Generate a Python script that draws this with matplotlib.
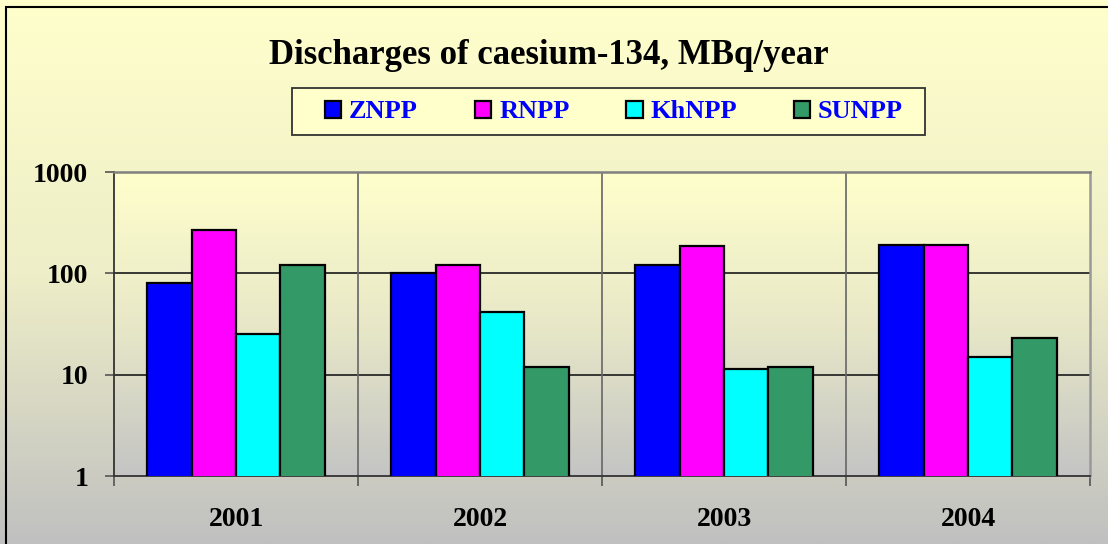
import numpy as np
import matplotlib
matplotlib.use("Agg")
import matplotlib.pyplot as plt
from matplotlib.colors import LinearSegmentedColormap
from matplotlib.patches import Rectangle

years = ["2001", "2002", "2003", "2004"]
series = ["ZNPP", "RNPP", "KhNPP", "SUNPP"]
znpp = [80, 100, 120, 190]
rnpp = [265, 120, 185, 190]
khnpp = [25, 42, 11.5, 15]
sunpp = [120, 12, 12, 23]
colors = ["#0000FF", "#FF00FF", "#00FFFF", "#339966"]
yticks = [1, 10, 100, 1000]

plt.rcParams['font.family'] = ['Liberation Serif', 'DejaVu Serif']
plt.rcParams['font.weight'] = 'bold'

W, H = 1108, 544
fig = plt.figure(figsize=(W / 100, H / 100), dpi=100)

# figure gradient background
bg = fig.add_axes([0, 0, 1, 1], zorder=-10)
cmap_fig = LinearSegmentedColormap.from_list("fg", ["#FFFFCC", "#EEEEC8", "#C0C0C0"])
bg.imshow(np.linspace(0, 1, 256).reshape(-1, 1), aspect='auto', cmap=cmap_fig,
          extent=[0, 1, 0, 1], origin='upper')
bg.set_xlim(0, 1); bg.set_ylim(0, 1)
bg.axis('off')
bg.add_patch(Rectangle((6 / W, -0.1), 1.2, 1.1 - 7 / H, fill=False,
                       edgecolor='black', linewidth=1.5, transform=bg.transAxes,
                       clip_on=False))
# legend frame
bg.add_patch(Rectangle((292 / W, 1 - 135 / H), (925 - 292) / W, (135 - 88) / H,
                       facecolor='#FFFFCC', edgecolor='#333333', linewidth=1.3,
                       transform=bg.transAxes, zorder=5))

ax = fig.add_axes([114 / W, 1 - 476 / H, (1090 - 114) / W, (476 - 172) / H])
ax.set_facecolor('none')
cmap_ax = LinearSegmentedColormap.from_list("ax", ["#FFFFCC", "#E8E8C8", "#C4C4C4"])
ax.imshow(np.linspace(0, 1, 256).reshape(-1, 1), aspect='auto', cmap=cmap_ax,
          extent=[0, 1, 0, 1], origin='upper', transform=ax.transAxes, zorder=0)

data = [znpp, rnpp, khnpp, sunpp]
x = np.arange(len(years))
bw = 0.182
ax.set_yscale('log')
for i, (vals, c, name) in enumerate(zip(data, colors, series)):
    ax.bar(x + (i - 1.5) * bw, vals, width=bw, color=c, edgecolor='black',
           linewidth=1.6, label=name, zorder=3)

ax.set_ylim(1, 1000)
ax.set_xlim(-0.5, 3.5)
ax.set_yticks(yticks)
ax.set_yticklabels([str(v) for v in yticks], fontsize=20, fontweight='bold')
ax.yaxis.set_minor_locator(matplotlib.ticker.NullLocator())
ax.set_xticks(x)
ax.set_xticklabels(years, fontsize=20, fontweight='bold')
ax.set_xticks(np.arange(-0.5, 4.0, 1.0), minor=True)
ax.tick_params(axis='x', which='major', length=0, pad=22)
ax.tick_params(axis='x', which='minor', length=7, width=1.2, color='#555555', direction='out')
ax.tick_params(axis='y', which='major', length=6.5, width=1.2, color='#555555', pad=12)

for v in [10, 100]:
    ax.axhline(v, color='#1a1a1a', linewidth=1.2, zorder=1)
for v in [0.5, 1.5, 2.5]:
    ax.axvline(v, color='#666666', linewidth=1.2, zorder=1)

ax.spines['top'].set_color('#808080')
ax.spines['right'].set_color('#999999')
ax.spines['top'].set_linewidth(1.8)
ax.spines['right'].set_linewidth(1.8)
ax.spines['left'].set_color('#333333')
ax.spines['bottom'].set_color('#333333')
ax.spines['left'].set_linewidth(1.3)
ax.spines['bottom'].set_linewidth(1.3)

fig.text(549 / W, 1 - 55 / H, "Discharges of caesium-134, MBq/year", ha='center', va='center',
         fontsize=25, fontweight='bold')

handles, labels = ax.get_legend_handles_labels()
leg = fig.legend(handles, labels, loc='center', bbox_to_anchor=(614 / W, 1 - 112 / H), ncol=4,
                 frameon=False, prop={'size': 19, 'weight': 'bold'},
                 handlelength=0.62, handleheight=0.62,
                 columnspacing=2.15, handletextpad=0.3, borderpad=0.3)
leg.set_zorder(10)
for t in leg.get_texts():
    t.set_color('#0000FF')

fig.savefig("out.png", dpi=100)
